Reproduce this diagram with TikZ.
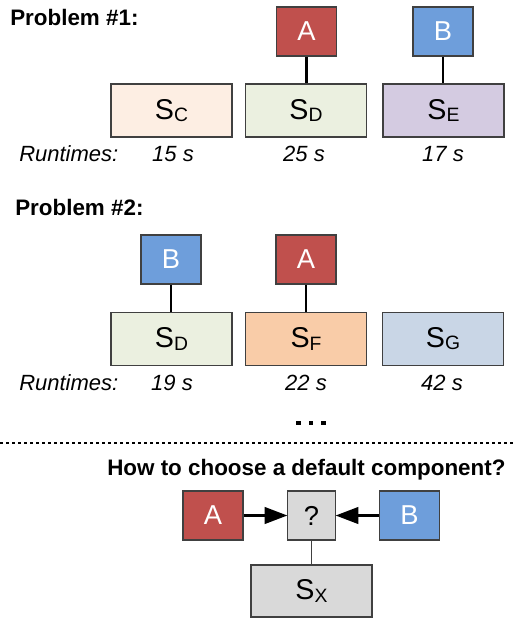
\documentclass[tikz,border=0pt]{standalone}
\usepackage{fontspec}
\setmainfont{Liberation Sans}
\usetikzlibrary{arrows.meta}
\definecolor{cred}{HTML}{C0504D}
\definecolor{cblue}{HTML}{6E9EDB}
\definecolor{cSC}{HTML}{FDEEE3}
\definecolor{cSD}{HTML}{EBF0E0}
\definecolor{cSE}{HTML}{D4CBE1}
\definecolor{cSF}{HTML}{F9CCA8}
\definecolor{cSG}{HTML}{C9D6E6}
\definecolor{cgray}{HTML}{D9D9D9}
\definecolor{cborder}{HTML}{404040}
\newcommand{\Sbox}[1]{S\raisebox{-1.6pt}{\fontsize{14.5}{16}\selectfont #1}}
\tikzset{
  sbox/.style={draw=cborder, line width=0.8pt, minimum width=90.75pt, minimum height=39.75pt, inner sep=0pt, font=\fontsize{21.5}{24}\selectfont},
  cbox/.style={draw=cborder, line width=0.8pt, minimum width=45pt, minimum height=36.75pt, inner sep=0pt, text=white, font=\fontsize{20.5}{24}\selectfont},
  qbox/.style={draw=cborder, line width=0.8pt, fill=cgray, minimum width=35.5pt, minimum height=36.75pt, inner sep=0pt, font=\fontsize{20.5}{24}\selectfont},
  heading/.style={anchor=base west, inner sep=0pt, font=\bfseries\fontsize{16.8}{19}\selectfont},
  rt/.style={anchor=base, inner sep=0pt, font=\itshape\fontsize{16.5}{19}\selectfont},
  link/.style={line width=1.6pt, black},
  dot/.style={fill=black}
}
\begin{document}
\begin{tikzpicture}[x=0.75pt, y=-0.75pt]
\useasboundingbox (0,0) rectangle (515,619);
% Problem 1
\node[heading] (h1) at (10,25) {Problem \#1:};
\node[sbox, fill=cSC] (sc) at (171.5,110.5) {\Sbox{C}};
\node[sbox, fill=cSD] (sd) at (306,110.5) {\Sbox{D}};
\node[sbox, fill=cSE] (se) at (443.5,110.5) {\Sbox{E}};
\node[cbox, fill=cred] (a1) at (306.5,31.5) {A};
\node[cbox, fill=cblue] (b1) at (443,31.5) {B};
\draw[link] (a1.south) -- (a1.south |- sd.north);
\draw[link] (b1.south) -- (b1.south |- se.north);
\node[rt, anchor=base west] (rt1) at (19,161) {Runtimes:};
\node[rt] (t1) at (173,161) {15 s};
\node[rt] (t2) at (304,161) {25 s};
\node[rt] (t3) at (443,161) {17 s};
% Problem 2
\node[heading] (h2) at (15,215) {Problem \#2:};
\node[sbox, fill=cSD] (sd2) at (171.5,339) {\Sbox{D}};
\node[sbox, fill=cSF] (sf) at (306,339) {\Sbox{F}};
\node[sbox, fill=cSG] (sg) at (443,339) {\Sbox{G}};
\node[cbox, fill=cblue] (b2) at (171,259.5) {B};
\node[cbox, fill=cred] (a2) at (306,259.5) {A};
\draw[link] (b2.south) -- (b2.south |- sd2.north);
\draw[link] (a2.south) -- (a2.south |- sf.north);
\node[rt, anchor=base west] (rt2) at (19,390) {Runtimes:};
\node[rt] (u1) at (172,390) {19 s};
\node[rt] (u2) at (306,390) {22 s};
\node[rt] (u3) at (442,390) {42 s};
% ellipsis
\fill[dot] (296,420.7) rectangle (300.5,425.2);
\fill[dot] (308.5,420.7) rectangle (313,425.2);
\fill[dot] (321,420.7) rectangle (325.5,425.2);
% separator
\draw[line width=1.5pt, dash pattern=on 2.5pt off 2pt] (0,443) -- (515,443);
% Bottom
\node[heading] (h3) at (107,475) {How to choose a default component?};
\node[cbox, fill=cred] (a3) at (213,515.5) {A};
\node[qbox] (q) at (311.5,515.5) {?};
\node[cbox, fill=cblue] (b3) at (409.5,515.5) {B};
\node[sbox, fill=cgray, minimum height=39pt] (sx) at (311.5,591) {\Sbox{X}};
\draw[link, -{Triangle[length=17pt,width=12.5pt]}] (a3.east) -- (q.west);
\draw[link, -{Triangle[length=17pt,width=12.5pt]}] (b3.west) -- (q.east);
\draw[line width=0.8pt, cborder] (q.south) -- (q.south |- sx.north);
\end{tikzpicture}
\end{document}
